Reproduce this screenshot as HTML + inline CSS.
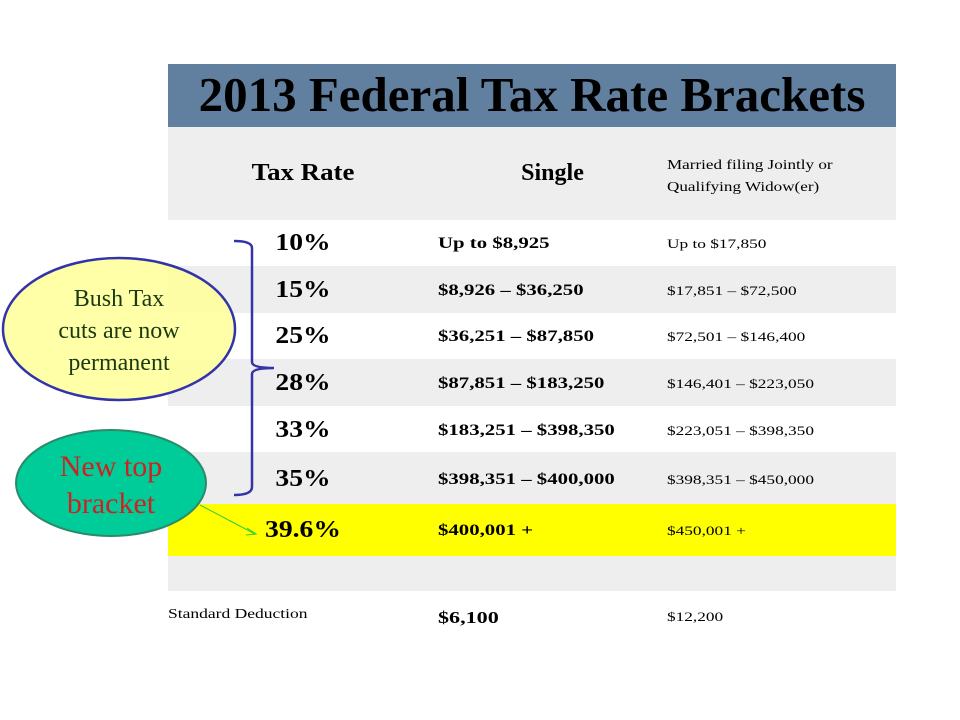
<!DOCTYPE html>
<html><head><meta charset="utf-8"><style>
body{margin:0;width:960px;height:720px;background:#fff;position:relative;overflow:hidden;font-family:"Liberation Serif",serif}
.a{position:absolute}
.row{position:absolute;left:168px;width:728px}
.r{position:absolute;left:168px;width:270px;text-align:center;font-weight:bold;font-size:24px;transform:scaleX(1.15)}
.s{position:absolute;left:438px;font-weight:bold;font-size:16px;transform:scaleX(1.3);transform-origin:0 0;white-space:nowrap}
.m{position:absolute;left:667px;font-size:13px;transform:scaleX(1.33);transform-origin:0 0;white-space:nowrap}
</style></head><body>
<div class="row" style="top:64px;height:63px;background:#617f9f"></div>
<div class="a" style="left:168px;width:728px;top:66px;text-align:center;font-size:49px;font-weight:bold;transform:scaleX(1.0)">2013 Federal Tax Rate Brackets</div>
<div class="row" style="top:127px;height:93px;background:#eeeeee"></div>
<div class="a" style="left:168px;width:270px;text-align:center;top:160px;font-size:24px;font-weight:bold;transform:scaleX(1.12)">Tax Rate</div>
<div class="a" style="left:438px;width:229px;text-align:center;top:160px;font-size:24px;font-weight:bold">Single</div>
<div class="a" style="left:667px;top:155px;font-size:14px;line-height:22px;transform:scaleX(1.22);transform-origin:0 0;white-space:nowrap">Married filing Jointly or<br>Qualifying Widow(er)</div>

<div class="row" style="top:266px;height:47px;background:#eeeeee"></div>
<div class="row" style="top:359px;height:47px;background:#eeeeee"></div>
<div class="row" style="top:452px;height:52px;background:#eeeeee"></div>
<div class="row" style="top:504px;height:52px;background:#ffff00"></div>
<div class="row" style="top:556px;height:35px;background:#eeeeee"></div>

<div class="r" style="top:230px">10%</div>
<div class="s" style="top:235px">Up to $8,925</div>
<div class="m" style="top:236px">Up to $17,850</div>
<div class="r" style="top:277px">15%</div>
<div class="s" style="top:282px">$8,926 – $36,250</div>
<div class="m" style="top:283px">$17,851 – $72,500</div>
<div class="r" style="top:323px">25%</div>
<div class="s" style="top:328px">$36,251 – $87,850</div>
<div class="m" style="top:329px">$72,501 – $146,400</div>
<div class="r" style="top:370px">28%</div>
<div class="s" style="top:375px">$87,851 – $183,250</div>
<div class="m" style="top:376px">$146,401 – $223,050</div>
<div class="r" style="top:417px">33%</div>
<div class="s" style="top:422px">$183,251 – $398,350</div>
<div class="m" style="top:423px">$223,051 – $398,350</div>
<div class="r" style="top:466px">35%</div>
<div class="s" style="top:471px">$398,351 – $400,000</div>
<div class="m" style="top:472px">$398,351 – $450,000</div>
<div class="r" style="top:517px">39.6%</div>
<div class="s" style="top:522px">$400,001 +</div>
<div class="m" style="top:523px">$450,001 +</div>
<div class="a" style="left:168px;top:607px;font-size:14px;transform:scaleX(1.25);transform-origin:0 0;white-space:nowrap">Standard Deduction</div>
<div class="s" style="top:608px;font-size:17px">$6,100</div>
<div class="m" style="top:609px">$12,200</div>

<svg class="a" style="left:0;top:0" width="960" height="720">
<path d="M234,241 Q252,241 252,248 L252,362 Q252,368 274,368 Q252,368 252,374 L252,487 Q252,495 234,495" fill="none" stroke="#3333aa" stroke-width="2.5"/>
<ellipse cx="119" cy="329" rx="116" ry="71" fill="#ffff99" fill-opacity="0.85" stroke="#3333aa" stroke-width="2.5"/>
<ellipse cx="111" cy="483" rx="95" ry="53" fill="#00cc99" stroke="#2a8a6a" stroke-width="2"/>
<line x1="200" y1="505" x2="255" y2="534" stroke="#33cc33" stroke-width="1"/>
<path d="M247,528 L256,534 L246,535" fill="none" stroke="#33cc33" stroke-width="1"/>
</svg>
<div class="a" style="left:19px;width:200px;top:283px;text-align:center;font-size:24px;line-height:32px;color:#1a3a10">Bush Tax<br>cuts are now<br>permanent</div>
<div class="a" style="left:16px;width:190px;top:448px;text-align:center;font-size:30px;line-height:37px;color:#cc2222">New top<br>bracket</div>
</body></html>
